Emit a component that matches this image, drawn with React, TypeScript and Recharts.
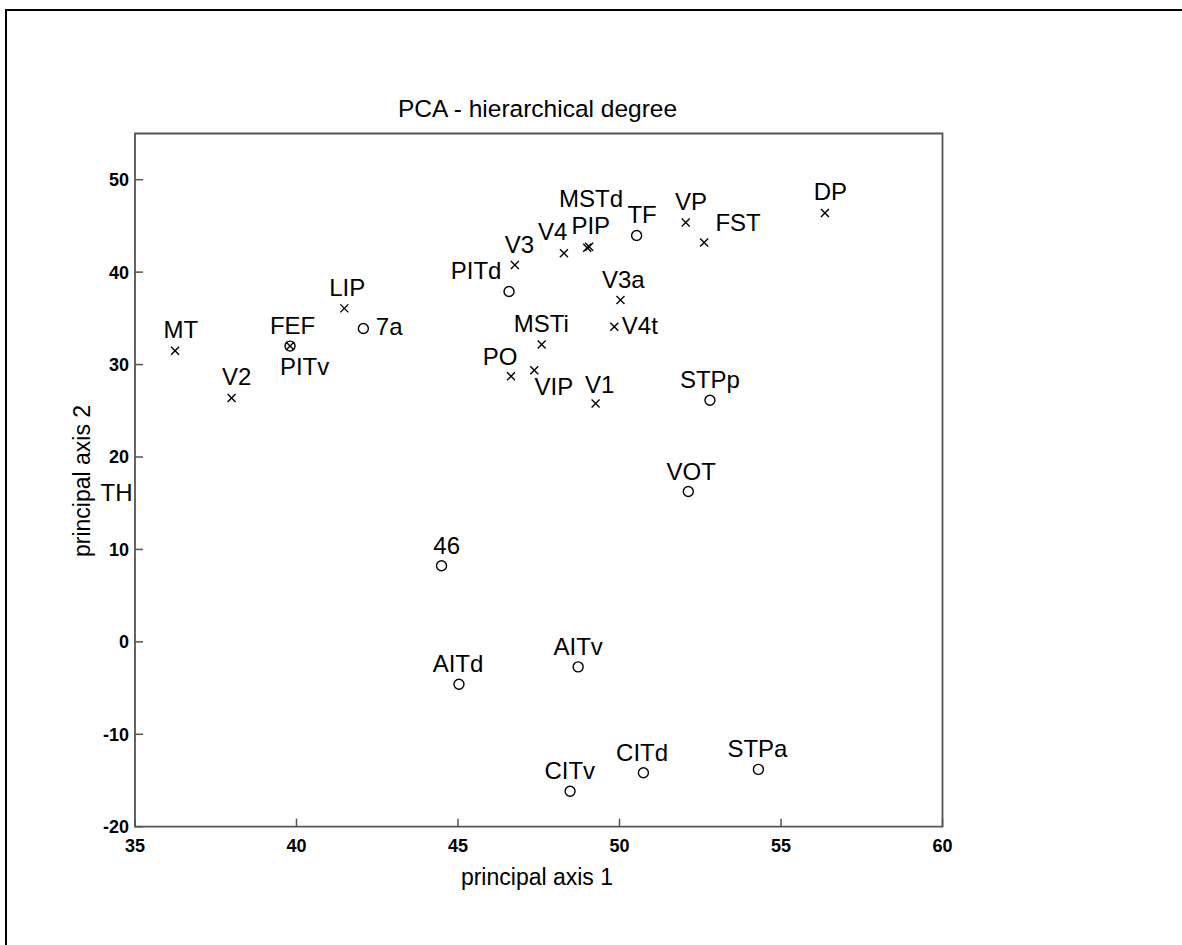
import { ScatterChart, Scatter, XAxis, YAxis, ReferenceArea, ReferenceDot } from "recharts";

// cortical areas, PCA coordinates
const areas = ["MT", "V2", "FEF", "PITv", "LIP", "7a", "V3", "PITd", "MSTi", "PO", "VIP", "V4", "PIP", "MSTd", "TF", "VP", "FST", "DP", "V3a", "V4t", "V1", "STPp", "VOT", "46", "AITd", "AITv", "CITv", "CITd", "STPa", "TH"];
const markers = ["x", "x", "x", "o", "x", "o", "x", "o", "x", "x", "x", "x", "x", "x", "o", "x", "x", "x", "x", "x", "x", "o", "o", "o", "o", "o", "o", "o", "o", "o"];
const axis1 = [36.24, 37.99, 39.8, 39.8, 41.48, 42.07, 46.76, 46.58, 47.59, 46.64, 47.36, 48.28, 49.0, 49.06, 50.53, 52.05, 52.62, 56.36, 50.03, 49.84, 49.26, 52.8, 52.13, 44.49, 45.03, 48.72, 48.47, 50.74, 54.3, 34.4];
const axis2 = [31.49, 26.39, 32.0, 32.0, 36.08, 33.9, 40.78, 37.9, 32.18, 28.74, 29.39, 42.05, 42.65, 42.75, 43.96, 45.37, 43.2, 46.39, 36.98, 34.09, 25.78, 26.14, 16.27, 8.24, -4.59, -2.71, -16.16, -14.17, -13.8, 13.9];
// where each name was written, in data units
const labelAxis1 = [36.42, 38.15, 39.88, 40.25, 41.57, 42.87, 46.9, 45.56, 47.58, 46.3, 47.97, 47.93, 49.11, 49.12, 50.7, 52.21, 53.67, 56.53, 50.12, 50.63, 49.39, 52.8, 52.22, 44.65, 45.0, 48.72, 48.46, 50.7, 54.27, 34.43];
const labelAxis2 = [33.81, 28.76, 34.24, 29.85, 38.39, 34.09, 42.95, 40.18, 34.4, 30.89, 27.68, 44.36, 45.03, 47.97, 46.26, 47.61, 45.39, 48.77, 39.24, 34.27, 27.85, 28.4, 18.49, 10.41, -2.37, -0.47, -13.96, -11.96, -11.52, 16.19];

const xTicks = [35, 40, 45, 50, 55, 60];
const yTicks = [-20, -10, 0, 10, 20, 30, 40, 50];

const FONT = "'Liberation Sans', Arial, Helvetica, sans-serif";
const AXIS = "#555";

const points = areas.map((name, i) => ({ name, x: axis1[i], y: axis2[i], m: markers[i] }));
const crosses = points.filter(p => p.m === "x");
const circles = points.filter(p => p.m === "o");

function Cross(props: any) {
  const { cx, cy } = props;
  const s = 4;
  return (
    <g stroke="#000" strokeWidth={1.4}>
      <line x1={cx - s} y1={cy - s} x2={cx + s} y2={cy + s} />
      <line x1={cx - s} y1={cy + s} x2={cx + s} y2={cy - s} />
    </g>
  );
}

function Ring(props: any) {
  const { cx, cy } = props;
  return <circle cx={cx} cy={cy} r={5} fill="none" stroke="#000" strokeWidth={1.4} />;
}

function NameLabel(props: any, text: string) {
  const { cx, cy } = props;
  return (
    <text x={cx} y={cy + 8.6} textAnchor="middle" fontFamily={FONT} fontSize={24} fill="#000">
      {text}
    </text>
  );
}

export default function App() {
  return (
    <div style={{ position: "absolute", left: 0, top: 0, width: 1182, height: 945, background: "#fff", overflow: "hidden" }}>
      <ScatterChart
        width={1182}
        height={945}
        margin={{ top: 133.5, right: 239.5, bottom: 58.3, left: 75 }}
      >
        <XAxis
          type="number"
          dataKey="x"
          domain={[35, 60]}
          ticks={xTicks}
          allowDataOverflow
          axisLine={false}
          tickSize={-8}
          tickMargin={21}
          tickLine={{ stroke: AXIS, strokeWidth: 1.5 }}
          tick={{ fill: "#000", fontSize: 18, fontWeight: "bold", fontFamily: FONT }}
          height={60}
        />
        <YAxis
          type="number"
          dataKey="y"
          domain={[-20, 55]}
          ticks={yTicks}
          allowDataOverflow
          axisLine={false}
          tickSize={-8}
          tickMargin={14}
          tickLine={{ stroke: AXIS, strokeWidth: 1.5 }}
          tick={{ fill: "#000", fontSize: 18, fontWeight: "bold", fontFamily: FONT }}
          width={60}
        />
        <ReferenceArea x1={35} x2={60} y1={-20} y2={55} fill="none" stroke={AXIS} strokeWidth={1.8} ifOverflow="visible" />
        <Scatter data={crosses} shape={Cross} isAnimationActive={false} />
        <Scatter data={circles} shape={Ring} isAnimationActive={false} />
        {areas.map((name, i) => (
          <ReferenceDot
            key={name}
            x={labelAxis1[i]}
            y={labelAxis2[i]}
            ifOverflow="visible"
            shape={(p: any) => NameLabel(p, name)}
          />
        ))}
      </ScatterChart>
      <div style={{ position: "absolute", left: 5, top: 9, width: 1200, height: 1000, borderTop: "2.5px solid #000", borderLeft: "2.5px solid #000", pointerEvents: "none" }} />
      <svg width={1182} height={945} style={{ position: "absolute", left: 0, top: 0, pointerEvents: "none" }}>
        <text x={537.5} y={117} textAnchor="middle" fontFamily={FONT} fontSize={24.5} fill="#000">
          PCA - hierarchical degree
        </text>
        <text x={537} y={885} textAnchor="middle" fontFamily={FONT} fontSize={23} fill="#000">
          principal axis 1
        </text>
        <text
          x={0}
          y={0}
          transform="translate(90,481) rotate(-90)"
          textAnchor="middle"
          fontFamily={FONT}
          fontSize={23}
          fill="#000"
        >
          principal axis 2
        </text>
      </svg>
    </div>
  );
}
